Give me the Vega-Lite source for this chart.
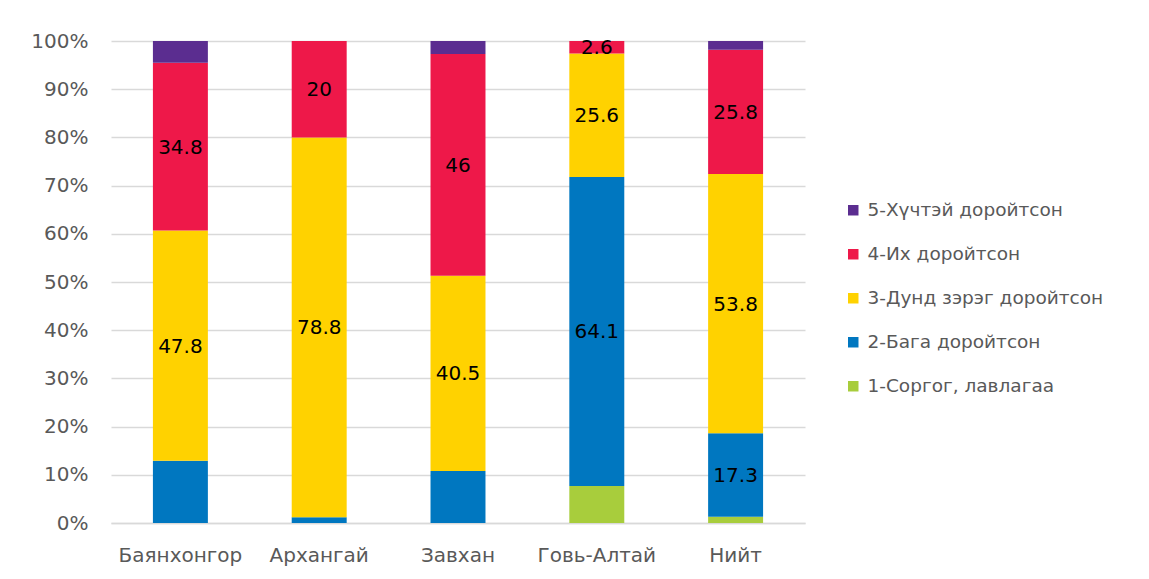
{
  "$schema": "https://vega.github.io/schema/vega-lite/v6.json",
  "autosize": "none",
  "width": 694,
  "height": 482,
  "padding": {"left": 111, "top": 41, "right": 344, "bottom": 56},
  "background": "white",
  "config": {
    "view": {"stroke": null},
    "font": "DejaVu Sans"
  },
  "data": {
    "values": [
      {"aimag": "Баянхонгор", "cat": "1-Соргог, лавлагаа", "v": 0, "label": ""},
      {"aimag": "Баянхонгор", "cat": "2-Бага доройтсон", "v": 12.9, "label": ""},
      {"aimag": "Баянхонгор", "cat": "3-Дунд зэрэг доройтсон", "v": 47.8, "label": "47.8"},
      {"aimag": "Баянхонгор", "cat": "4-Их доройтсон", "v": 34.8, "label": "34.8"},
      {"aimag": "Баянхонгор", "cat": "5-Хүчтэй доройтсон", "v": 4.5, "label": ""},
      {"aimag": "Архангай", "cat": "1-Соргог, лавлагаа", "v": 0, "label": ""},
      {"aimag": "Архангай", "cat": "2-Бага доройтсон", "v": 1.2, "label": ""},
      {"aimag": "Архангай", "cat": "3-Дунд зэрэг доройтсон", "v": 78.8, "label": "78.8"},
      {"aimag": "Архангай", "cat": "4-Их доройтсон", "v": 20, "label": "20"},
      {"aimag": "Архангай", "cat": "5-Хүчтэй доройтсон", "v": 0, "label": ""},
      {"aimag": "Завхан", "cat": "1-Соргог, лавлагаа", "v": 0, "label": ""},
      {"aimag": "Завхан", "cat": "2-Бага доройтсон", "v": 10.8, "label": ""},
      {"aimag": "Завхан", "cat": "3-Дунд зэрэг доройтсон", "v": 40.5, "label": "40.5"},
      {"aimag": "Завхан", "cat": "4-Их доройтсон", "v": 46, "label": "46"},
      {"aimag": "Завхан", "cat": "5-Хүчтэй доройтсон", "v": 2.7, "label": ""},
      {"aimag": "Говь-Алтай", "cat": "1-Соргог, лавлагаа", "v": 7.7, "label": ""},
      {"aimag": "Говь-Алтай", "cat": "2-Бага доройтсон", "v": 64.1, "label": "64.1"},
      {"aimag": "Говь-Алтай", "cat": "3-Дунд зэрэг доройтсон", "v": 25.6, "label": "25.6"},
      {"aimag": "Говь-Алтай", "cat": "4-Их доройтсон", "v": 2.6, "label": "2.6"},
      {"aimag": "Говь-Алтай", "cat": "5-Хүчтэй доройтсон", "v": 0, "label": ""},
      {"aimag": "Нийт", "cat": "1-Соргог, лавлагаа", "v": 1.3, "label": ""},
      {"aimag": "Нийт", "cat": "2-Бага доройтсон", "v": 17.3, "label": "17.3"},
      {"aimag": "Нийт", "cat": "3-Дунд зэрэг доройтсон", "v": 53.8, "label": "53.8"},
      {"aimag": "Нийт", "cat": "4-Их доройтсон", "v": 25.8, "label": "25.8"},
      {"aimag": "Нийт", "cat": "5-Хүчтэй доройтсон", "v": 1.8, "label": ""}
    ]
  },
  "encoding": {
    "x": {
      "field": "aimag", "type": "nominal", "sort": null,
      "scale": {"paddingInner": 0.604, "paddingOuter": 0.302},
      "axis": {
        "title": null, "labelAngle": 0, "ticks": false,
        "domainColor": "#d9d9d9", "domainWidth": 1.5,
        "labelFontSize": 20, "labelColor": "#595959", "labelPadding": 22
      }
    },
    "y": {
      "field": "v", "type": "quantitative", "stack": "normalize",
      "scale": {"domain": [0, 1]},
      "axis": {
        "title": null, "format": ".0%", "values": [0, 0.1, 0.2, 0.3, 0.4, 0.5, 0.6, 0.7, 0.8, 0.9, 1],
        "ticks": false, "domain": false, "gridColor": "#d9d9d9", "gridWidth": 1.5,
        "labelFontSize": 20, "labelColor": "#595959", "labelPadding": 23
      }
    },
    "order": {"field": "cat", "sort": "ascending"}
  },
  "layer": [
    {
      "mark": {"type": "bar"},
      "encoding": {
        "color": {
          "field": "cat", "type": "nominal",
          "scale": {
            "domain": ["5-Хүчтэй доройтсон", "4-Их доройтсон", "3-Дунд зэрэг доройтсон", "2-Бага доройтсон", "1-Соргог, лавлагаа"],
            "range": ["#5B2D90", "#EE1849", "#FFD200", "#0077C0", "#A8CD3C"]
          },
          "legend": {
            "title": null, "orient": "none", "legendX": 733, "legendY": 160,
            "symbolType": "square", "symbolSize": 110, "symbolStrokeWidth": 0,
            "labelFontSize": 18.5, "labelColor": "#595959", "labelLimit": 400,
            "rowPadding": 25, "labelOffset": 5, "padding": 0
          }
        }
      }
    },
    {
      "mark": {"type": "text", "fontSize": 20, "color": "black", "dy": 1},
      "encoding": {
        "y": {"field": "v", "type": "quantitative", "stack": "normalize", "bandPosition": 0.5},
        "text": {"field": "label"}
      }
    }
  ]
}
